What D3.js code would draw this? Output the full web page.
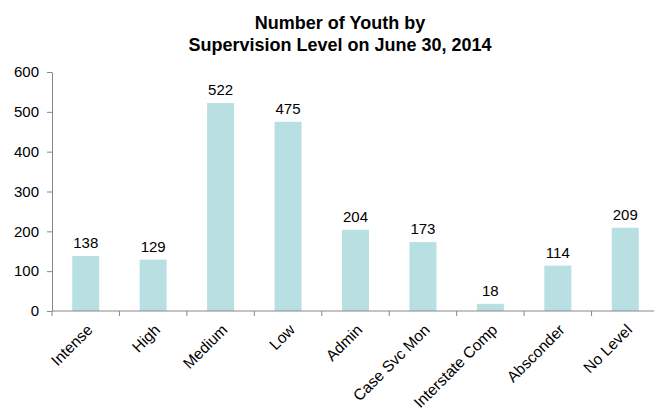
<!DOCTYPE html>
<html>
<head>
<meta charset="utf-8">
<script src="https://cdn.jsdelivr.net/npm/d3@7"></script>
<style>
  body { margin: 0; background: #fff; }
  text { font-family: "Liberation Sans", Arial, sans-serif; fill: #000; }
</style>
</head>
<body>
<svg id="chart" width="654" height="411"></svg>
<script>
// chart data
const categories = ["Intense", "High", "Medium", "Low", "Admin", "Case Svc Mon",
  "Interstate Comp", "Absconder", "No Level"];
const youthCounts = [138, 129, 522, 475, 204, 173, 18, 114, 209];
const yTicks = [0, 100, 200, 300, 400, 500, 600];
const titleLines = ["Number of Youth by", "Supervision Level on June 30, 2014"];

const svg = d3.select("#chart");
const plotLeft = 52, plotRight = 659, plotTop = 72, plotBottom = 311;

const x = d3.scaleBand()
  .domain(categories)
  .range([plotLeft, plotRight])
  .paddingInner(0.6)
  .paddingOuter(0.3);

const y = d3.scaleLinear()
  .domain([0, 600])
  .range([plotBottom, plotTop]);

// title
svg.append("g").selectAll("text")
  .data(titleLines)
  .join("text")
  .attr("x", 340)
  .attr("y", (d, i) => 29 + i * 22)
  .attr("text-anchor", "middle")
  .style("font-size", "18px")
  .style("font-weight", "bold")
  .text(d => d);

// bars
svg.append("g").selectAll("rect")
  .data(youthCounts)
  .join("rect")
  .attr("x", (d, i) => x(categories[i]))
  .attr("y", d => y(d))
  .attr("width", x.bandwidth())
  .attr("height", d => y(0) - y(d))
  .attr("fill", "#b8dfe2");

// value labels
svg.append("g").selectAll("text")
  .data(youthCounts)
  .join("text")
  .attr("x", (d, i) => x(categories[i]) + x.bandwidth() / 2)
  .attr("y", d => y(d) - 8)
  .attr("text-anchor", "middle")
  .style("font-size", "15px")
  .text(d => d);

// y axis
const yAxis = svg.append("g")
  .attr("transform", `translate(${plotLeft},0)`)
  .call(d3.axisLeft(y).tickValues(yTicks).tickSize(5).tickPadding(8).tickSizeOuter(0));
yAxis.select(".domain").attr("stroke", "#878787");
yAxis.selectAll(".tick line").attr("stroke", "#878787");
yAxis.selectAll("text").style("font-size", "15px").style("font-family", "Liberation Sans, Arial, sans-serif").attr("fill", "#000");

// x axis: ticks sit between categories
const step = x.step();
const boundaries = d3.range(categories.length + 1).map(i => plotLeft + i * step);
const xAxis = svg.append("g");
xAxis.append("line")
  .attr("x1", plotLeft).attr("x2", plotRight)
  .attr("y1", plotBottom).attr("y2", plotBottom)
  .attr("stroke", "#878787");
xAxis.selectAll(".bt")
  .data(boundaries)
  .join("line")
  .attr("class", "bt")
  .attr("x1", d => d).attr("x2", d => d)
  .attr("y1", plotBottom).attr("y2", plotBottom + 5)
  .attr("stroke", "#878787");
xAxis.selectAll("text")
  .data(categories)
  .join("text")
  .attr("transform", d => `translate(${x(d) + x.bandwidth() / 2 + 4},${plotBottom + 16}) rotate(-45)`)
  .attr("text-anchor", "end")
  .attr("dy", "0.35em")
  .style("font-size", "15.5px")
  .text(d => d);
</script>
</body>
</html>
